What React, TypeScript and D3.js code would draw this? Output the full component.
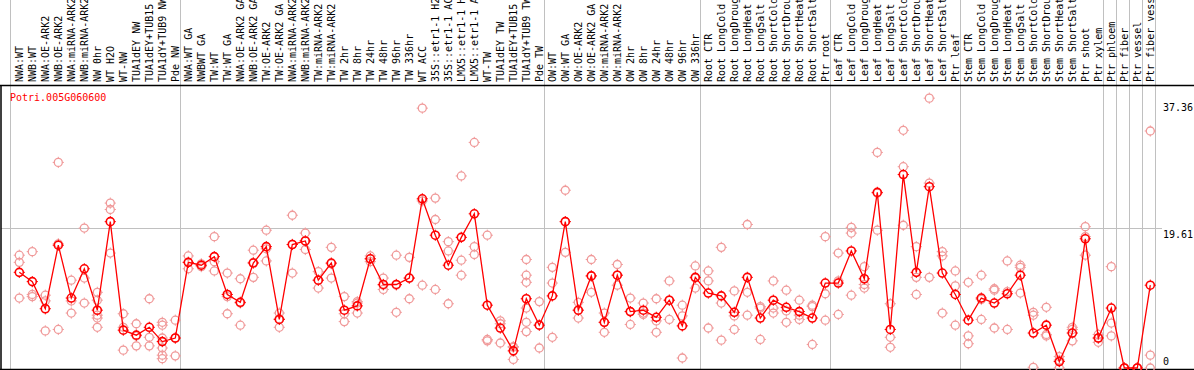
import React from "react";
import * as d3 from "d3";

// column labels, one array per group (a grey separator closes each group)
const nwLabels = ["NWA:WT", "NWB:WT", "NWA:OE-ARK2", "NWB:OE-ARK2", "NWA:miRNA-ARK2", "NWB:miRNA-ARK2", "NW 0hr", "WT H2O", "WT-NW", "TUA1dEY NW", "TUA1dEY+TUB15 NW", "TUA1dY+TUB9 NW", "Pde NW"];
const twLabels = ["NWA:WT GA", "NWBWT GA", "TW:WT", "TW:WT GA", "NWA:OE-ARK2 GA", "NWB:OE-ARK2 GA", "TW:OE-ARK2", "TW:OE-ARK2 GA", "NWA:miRNA-ARK2 GA", "NWB:miRNA-ARK2 GA", "TW:miRNA-ARK2", "TW:miRNA-ARK2 GA", "TW 2hr", "TW 8hr", "TW 24hr", "TW 48hr", "TW 96hr", "TW 336hr", "WT ACC", "35S::etr1-1 H2O", "35S::etr1-1 ACC", "LMX5::etr1-1 H2O", "LMX5::etr1-1 ACC", "WT-TW", "TUA1dEY TW", "TUA1dEY+TUB15 TW", "TUA1dY+TUB9 TW", "Pde TW"];
const owLabels = ["OW:WT", "OW:WT GA", "OW:OE-ARK2", "OW:OE-ARK2 GA", "OW:miRNA-ARK2", "OW:miRNA-ARK2 GA", "OW 2hr", "OW 8hr", "OW 24hr", "OW 48hr", "OW 96hr", "OW 336hr"];
const rootLabels = ["Root CTR", "Root LongCold", "Root LongDrought", "Root LongHeat", "Root LongSalt", "Root ShortCold", "Root ShortDrought", "Root ShortHeat", "Root ShortSalt", "Ptr root"];
const leafLabels = ["Leaf CTR", "Leaf LongCold", "Leaf LongDrought", "Leaf LongHeat", "Leaf LongSalt", "Leaf ShortCold", "Leaf ShortDrought", "Leaf ShortHeat", "Leaf ShortSalt", "Ptr leaf"];
const stemLabels = ["Stem CTR", "Stem LongCold", "Stem LongDrought", "Stem LongHeat", "Stem LongSalt", "Stem ShortCold", "Stem ShortDrought", "Stem ShortHeat", "Stem ShortSalt", "Ptr shoot", "Ptr xylem"];
const tissueLabels = [["Ptr phloem"], ["Ptr fiber"], ["Ptr vessel"], ["Ptr fiber vessel"]];

const groups = [nwLabels, twLabels, owLabels, rootLabels, leafLabels, stemLabels, ...tissueLabels];
const labels = groups.flat();

const geneName = "Potri.005G060600";
const tickValues = [0, 19.61, 37.36];

// mean expression per column
const means = [
  13.4, 12.1, 8.3, 17.2, 9.8, 13.9, 8.1, 20.5, 5.3, 4.6, 5.7, 3.7, 4.2,
  14.8, 14.4, 15.6, 10.3, 9.2, 14.7, 17.0, 6.8, 17.3, 17.8, 12.3, 14.7, 8.1, 8.7, 15.3, 11.7, 11.7, 12.6, 23.7, 18.6, 14.4, 18.3, 21.6, 8.8, 5.6, 2.4, 9.7, 6.0,
  10.1, 20.5, 8.1, 12.9, 6.4, 13.0, 7.9, 8.1, 7.1, 9.5, 5.9, 12.7,
  10.5, 10.1, 7.8, 12.7, 7.0, 9.5, 8.5, 7.9, 7.0, 11.9,
  11.9, 16.4, 12.5, 24.6, 5.4, 27.1, 13.4, 25.4, 13.3, 10.3,
  6.7, 9.8, 9.1, 10.4, 13.0, 4.9, 6.0, 0.9, 4.9, 18.1, 4.2,
  8.4, 0, 0, 11.6
];

// single replicates per column
const replicates = [
  [15.8, 14.8, 9.8], [16.3, 10.3, 10.0], [10.2, 9.4, 5.2], [28.8, 17.4, 5.4], [12.3, 9.4, 7.7],
  [19.6, 12.6, 9.1], [10.6, 9.5, 7.4, 7.0, 5.7], [23.1, 22.2, 16.1], [7.6, 5.7, 2.5], [6.2, 4.5, 3.1],
  [9.7, 4.3, 3.1], [6.4, 6.0, 4.2, 2.8, 1.8, 1.3], [6.7, 4.2, 1.7],
  [15.7, 14.8, 13.9], [14.6, 14.4, 14.2], [18.4, 14.9, 13.6], [13.3, 10.0, 7.6], [12.5, 9.1, 6.0],
  [16.5, 14.8, 12.7], [19.3, 16.7, 15.0], [7.7, 6.9, 5.7], [21.4, 17.3, 13.3], [18.9, 17.8, 16.6],
  [13.5, 12.3, 11.2], [16.9, 14.6, 12.6], [10.0, 7.6, 6.5], [9.3, 9.1, 7.7], [15.7, 15.3, 14.9],
  [12.6, 11.6, 11.0], [15.8, 11.6, 7.8], [15.5, 12.6, 9.7], [36.4, 23.4, 11.6], [23.8, 20.8, 11.0],
  [17.7, 16.4, 9.0], [26.9, 15.1, 13.0], [31.6, 17.0, 15.9], [18.6, 4.0, 3.8], [6.6, 6.2, 3.5],
  [3.0, 2.9, 1.2], [15.2, 13.0, 12.0, 8.4, 6.4, 5.1], [9.3, 6.0, 2.8],
  [14.1, 11.9, 4.3], [24.9, 20.5, 16.2], [9.2, 8.1, 7.0], [15.2, 12.9, 10.6], [7.7, 6.4, 5.0],
  [14.5, 13.0, 11.6], [9.8, 7.9, 6.1], [9.1, 7.7, 7.5], [9.7, 6.6, 5.0], [12.2, 9.5, 6.8],
  [8.8, 7.3, 1.4], [14.3, 12.6, 11.2],
  [13.6, 12.2, 5.6], [16.9, 9.1, 3.9], [10.8, 7.3, 5.4], [20.1, 10.6, 7.4], [8.6, 8.4, 4.0],
  [12.2, 8.4, 7.7], [10.9, 8.0, 6.4], [9.5, 7.4, 6.8], [8.8, 8.6, 3.3], [18.4, 10.4, 6.7],
  [16.1, 12.2, 7.5], [19.7, 18.9, 10.2], [14.2, 11.7, 11.2], [30.2, 24.5, 19.3], [9.0, 4.3, 2.9],
  [33.3, 28.2, 20.0], [17.0, 12.7, 10.3], [37.8, 25.9, 12.7], [16.3, 15.7, 7.7], [13.6, 11.5, 6.0],
  [12.0, 4.5, 3.4], [13.0, 9.6, 6.8], [11.1, 10.9, 5.6], [15.0, 10.7, 5.4], [14.4, 14.1, 10.5],
  [7.8, 7.4, 0.1], [8.5, 4.7, 4.5], [1.6, 1.1, 0], [5.7, 5.4, 3.8], [19.8, 18.4, 15.8],
  [4.7, 4.2, 3.6], [14.2, 6.3, 4.5], [0, 0, 0], [0, 0, 0], [33.2, 1.8, 0]
];

const W = 1194;
const H = 370;
const headerY = 85;
const bottomY = 369;
const font = "'DejaVu Sans Mono', 'Liberation Mono', monospace";

const ticks = (cx, cy, r) =>
  `M${cx},${cy - r}v-1.6M${cx},${cy + r}v1.6M${cx - r},${cy}h-1.6M${cx + r},${cy}h1.6`;

const App = () => {
  const x = d3
    .scalePoint()
    .domain(d3.range(labels.length))
    .range([19.3, 19.3 + 13 * (labels.length - 1)]);

  const y = d3
    .scaleLinear()
    .domain([0, 37.36])
    .range([368, 101.3]);

  const line = d3
    .line()
    .x((_, i) => x(i))
    .y((d) => y(d));

  // separator after the last column of each group
  let acc = 0;
  const separators = [x(0) - 9];
  groups.forEach((g) => {
    acc += g.length;
    separators.push(x(acc - 1) + 5);
  });

  const repColor = "#f09a9a";
  const red = "#ff0000";

  return (
    <svg
      width={W}
      height={H}
      style={{ position: "absolute", left: 0, top: 0, background: "#fff" }}
      xmlns="http://www.w3.org/2000/svg"
    >
      <rect x={0} y={0} width={W} height={H} fill="#fff" />
      {separators.map((sx, i) => (
        <line
          key={`sep${i}`}
          x1={Math.round(sx) + 0.5}
          x2={Math.round(sx) + 0.5}
          y1={0}
          y2={bottomY}
          stroke="#c0c0c0"
          strokeWidth={1}
        />
      ))}
      <line x1={1} x2={1162} y1={Math.round(y(19.61)) + 0.5} y2={Math.round(y(19.61)) + 0.5} stroke="#c0c0c0" />
      <line x1={0} x2={W} y1={headerY + 0.5} y2={headerY + 0.5} stroke="#000" strokeWidth={1.5} />
      <line x1={0} x2={W} y1={bottomY + 0.5} y2={bottomY + 0.5} stroke="#000" strokeWidth={1.5} />
      <line x1={1} x2={1} y1={headerY} y2={bottomY} stroke="#000" strokeWidth={1.5} />

      {labels.map((l, i) => (
        <text
          key={l + i}
          transform={`translate(${x(i) + 3.6},82) rotate(-90)`}
          fontFamily={font}
          fontSize={10}
          fill="#000"
        >
          {l}
        </text>
      ))}

      <text x={10} y={101} fontFamily={font} fontSize={10} fill={red}>
        {geneName}
      </text>

      {tickValues.map((t) => (
        <text
          key={t}
          x={1163}
          y={Math.min(y(t) + 9.5, 365)}
          fontFamily={font}
          fontSize={10}
          fill="#000"
        >
          {t === 0 ? "0" : t.toFixed(2)}
        </text>
      ))}

      <g fill="none" stroke={repColor} strokeWidth={1.3}>
        {replicates.map((reps, i) =>
          reps.map((v, j) => (
            <g key={`r${i}-${j}`}>
              <circle cx={x(i)} cy={y(v)} r={4} />
              <path d={ticks(x(i), y(v), 4)} strokeWidth={1} />
            </g>
          ))
        )}
      </g>

      <path d={line(means)} fill="none" stroke={red} strokeWidth={1.3} />

      <g fill="none" stroke={red} strokeWidth={1.6}>
        {means.map((v, i) => (
          <g key={`m${i}`}>
            <circle cx={x(i)} cy={y(v)} r={4} />
            <path d={ticks(x(i), y(v), 4)} strokeWidth={1} />
          </g>
        ))}
      </g>
    </svg>
  );
};

export default App;
